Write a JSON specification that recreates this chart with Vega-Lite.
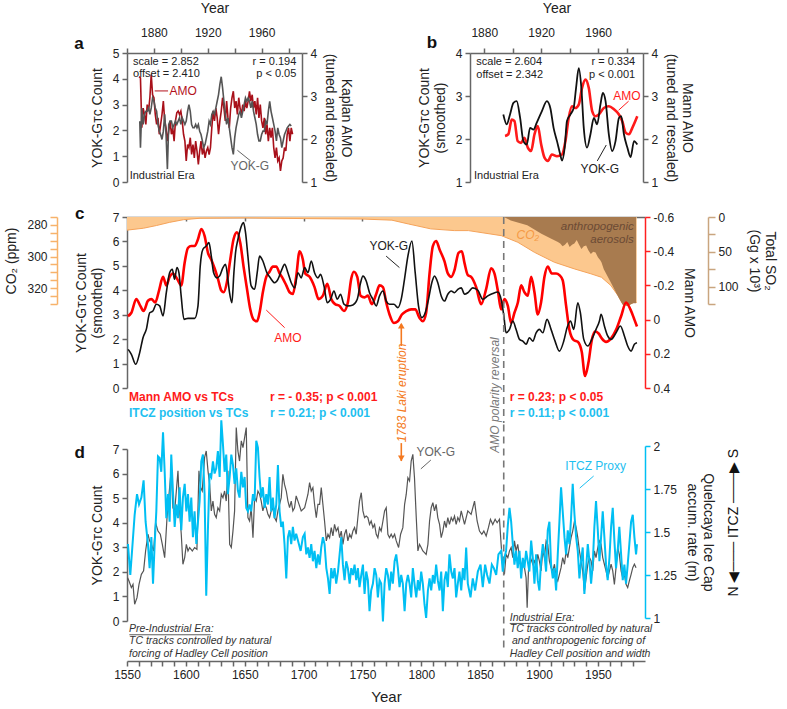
{
"$schema":"https://vega.github.io/schema/vega-lite/v6.json",
"padding":{"left":4,"top":1,"right":5,"bottom":5},
"config":{
 "font":"Liberation Sans",
 "view":{"stroke":null},
 "axis":{"grid":false,"labelFont":"Liberation Sans","labelFontSize":12,"labelColor":"#222","titleFont":"Liberation Sans","titleFontSize":14,"titleFontWeight":"normal","titleColor":"#222","domainColor":"#666","tickColor":"#666","domainWidth":1.5,"tickWidth":1.5,"tickSize":5,"labelOverlap":false,"labelFlush":false,"labelPadding":3},
 "text":{"font":"Liberation Sans","fontSize":11.5}
},
"datasets":{
 "a_yok":[{"year":1869.5,"v":2.36},{"year":1870,"v":1.33},{"year":1871,"v":2.87},{"year":1872,"v":2.23},{"year":1873,"v":2.62},{"year":1874,"v":2.74},{"year":1875,"v":2.74},{"year":1876,"v":2.87},{"year":1877,"v":2.62},{"year":1878,"v":2.87},{"year":1879,"v":3.26},{"year":1880,"v":3.13},{"year":1881,"v":2.87},{"year":1882,"v":2.74},{"year":1883,"v":2.23},{"year":1884,"v":1.97},{"year":1885,"v":1.84},{"year":1886,"v":1.65},{"year":1887,"v":1.97},{"year":1888,"v":2.62},{"year":1889,"v":1.84},{"year":1890,"v":0.5},{"year":1891,"v":2.23},{"year":1892,"v":2.36},{"year":1893,"v":2.36},{"year":1894,"v":2.1},{"year":1895,"v":2.23},{"year":1896,"v":2.36},{"year":1897,"v":2.23},{"year":1898,"v":2.36},{"year":1899,"v":2.49},{"year":1900,"v":2.23},{"year":1901,"v":2.49},{"year":1902,"v":2.36},{"year":1903,"v":2.23},{"year":1904,"v":2.36},{"year":1905,"v":2.74},{"year":1906,"v":3.0},{"year":1907,"v":2.74},{"year":1908,"v":2.23},{"year":1909,"v":2.1},{"year":1910,"v":2.1},{"year":1911,"v":2.23},{"year":1912,"v":2.1},{"year":1913,"v":2.23},{"year":1914,"v":1.97},{"year":1915,"v":1.84},{"year":1916,"v":1.59},{"year":1917,"v":1.33},{"year":1918,"v":1.46},{"year":1919,"v":1.71},{"year":1920,"v":1.97},{"year":1921,"v":2.36},{"year":1922,"v":2.23},{"year":1923,"v":2.62},{"year":1924,"v":2.74},{"year":1925,"v":2.62},{"year":1926,"v":2.87},{"year":1927,"v":3.13},{"year":1928,"v":3.39},{"year":1929,"v":3.78},{"year":1930,"v":4.08},{"year":1931,"v":3.65},{"year":1932,"v":3.13},{"year":1933,"v":2.62},{"year":1934,"v":2.23},{"year":1935,"v":2.49},{"year":1936,"v":2.1},{"year":1937,"v":1.71},{"year":1938,"v":1.33},{"year":1939,"v":1.07},{"year":1940,"v":1.71},{"year":1941,"v":2.1},{"year":1942,"v":2.36},{"year":1943,"v":2.62},{"year":1944,"v":2.74},{"year":1945,"v":2.49},{"year":1946,"v":2.74},{"year":1947,"v":3.0},{"year":1948,"v":3.26},{"year":1949,"v":3.13},{"year":1950,"v":3.26},{"year":1951,"v":3.13},{"year":1952,"v":2.87},{"year":1953,"v":3.13},{"year":1954,"v":2.74},{"year":1955,"v":2.49},{"year":1956,"v":2.23},{"year":1957,"v":1.84},{"year":1958,"v":1.59},{"year":1959,"v":1.59},{"year":1960,"v":1.84},{"year":1961,"v":1.97},{"year":1962,"v":1.97},{"year":1963,"v":2.36},{"year":1964,"v":2.23},{"year":1965,"v":2.74},{"year":1966,"v":3.13},{"year":1967,"v":2.74},{"year":1968,"v":2.49},{"year":1969,"v":2.23},{"year":1970,"v":1.97},{"year":1971,"v":1.59},{"year":1972,"v":2.1},{"year":1973,"v":1.84},{"year":1974,"v":1.71},{"year":1975,"v":1.33},{"year":1976,"v":1.59},{"year":1977,"v":1.84},{"year":1978,"v":1.97},{"year":1979,"v":2.1},{"year":1980,"v":2.17},{"year":1981,"v":2.23},{"year":1982,"v":2.17}],
 "a_amo":[{"year":1869,"v":3.45},{"year":1870,"v":3.42},{"year":1871,"v":2.26},{"year":1872,"v":2.72},{"year":1873,"v":2.57},{"year":1874,"v":2.34},{"year":1875,"v":2.8},{"year":1876,"v":2.65},{"year":1877,"v":2.96},{"year":1878,"v":3.5},{"year":1879,"v":3.03},{"year":1880,"v":2.96},{"year":1881,"v":2.57},{"year":1882,"v":2.34},{"year":1883,"v":2.49},{"year":1884,"v":2.11},{"year":1885,"v":2.34},{"year":1886,"v":2.57},{"year":1887,"v":2.88},{"year":1888,"v":2.42},{"year":1889,"v":2.26},{"year":1890,"v":1.95},{"year":1891,"v":2.18},{"year":1892,"v":2.42},{"year":1893,"v":2.11},{"year":1894,"v":2.26},{"year":1895,"v":1.95},{"year":1896,"v":2.42},{"year":1897,"v":2.61},{"year":1898,"v":2.65},{"year":1899,"v":2.57},{"year":1900,"v":2.65},{"year":1901,"v":2.42},{"year":1902,"v":2.11},{"year":1903,"v":1.95},{"year":1904,"v":1.49},{"year":1905,"v":1.87},{"year":1906,"v":1.8},{"year":1907,"v":2.03},{"year":1908,"v":1.64},{"year":1909,"v":1.87},{"year":1910,"v":1.56},{"year":1911,"v":1.95},{"year":1912,"v":1.72},{"year":1913,"v":1.41},{"year":1914,"v":1.72},{"year":1915,"v":1.95},{"year":1916,"v":1.64},{"year":1917,"v":1.8},{"year":1918,"v":1.56},{"year":1919,"v":1.72},{"year":1920,"v":1.8},{"year":1921,"v":1.64},{"year":1922,"v":1.8},{"year":1923,"v":2.26},{"year":1924,"v":2.65},{"year":1925,"v":2.42},{"year":1926,"v":2.72},{"year":1927,"v":2.49},{"year":1928,"v":2.11},{"year":1929,"v":2.42},{"year":1930,"v":2.65},{"year":1931,"v":2.96},{"year":1932,"v":2.72},{"year":1933,"v":2.42},{"year":1934,"v":2.88},{"year":1935,"v":2.49},{"year":1936,"v":2.26},{"year":1937,"v":2.72},{"year":1938,"v":2.96},{"year":1939,"v":3.11},{"year":1940,"v":2.72},{"year":1941,"v":2.88},{"year":1942,"v":2.57},{"year":1943,"v":2.96},{"year":1944,"v":2.72},{"year":1945,"v":2.57},{"year":1946,"v":2.8},{"year":1947,"v":2.65},{"year":1948,"v":2.88},{"year":1949,"v":2.72},{"year":1950,"v":2.88},{"year":1951,"v":3.11},{"year":1952,"v":2.88},{"year":1953,"v":3.03},{"year":1954,"v":2.72},{"year":1955,"v":2.88},{"year":1956,"v":2.57},{"year":1957,"v":2.96},{"year":1958,"v":2.49},{"year":1959,"v":2.8},{"year":1960,"v":2.42},{"year":1961,"v":2.26},{"year":1962,"v":2.49},{"year":1963,"v":2.11},{"year":1964,"v":2.34},{"year":1965,"v":1.95},{"year":1966,"v":2.26},{"year":1967,"v":2.03},{"year":1968,"v":2.26},{"year":1969,"v":1.8},{"year":1970,"v":1.56},{"year":1971,"v":1.8},{"year":1972,"v":1.49},{"year":1973,"v":1.56},{"year":1974,"v":1.26},{"year":1975,"v":1.49},{"year":1976,"v":1.56},{"year":1977,"v":1.8},{"year":1978,"v":1.72},{"year":1979,"v":2.11},{"year":1980,"v":2.26},{"year":1981,"v":1.95},{"year":1982,"v":2.26},{"year":1983,"v":2.11}],
 "b_yok":[{"year":1893.4,"v":2.57},{"year":1895.8,"v":2.34},{"year":1898.1,"v":2.57},{"year":1900.5,"v":2.84},{"year":1902.8,"v":2.88},{"year":1905.2,"v":2.49},{"year":1907.5,"v":1.95},{"year":1909.9,"v":1.87},{"year":1912.2,"v":2.26},{"year":1914.6,"v":2.22},{"year":1916.9,"v":2.38},{"year":1920.5,"v":2.65},{"year":1924,"v":2.88},{"year":1926.4,"v":2.72},{"year":1928.7,"v":2.26},{"year":1931.1,"v":1.95},{"year":1933.4,"v":1.64},{"year":1934.6,"v":1.5},{"year":1936.5,"v":1.8},{"year":1938.1,"v":2.42},{"year":1940.5,"v":2.57},{"year":1942.8,"v":2.72},{"year":1944.5,"v":3.19},{"year":1946.4,"v":3.65},{"year":1948.2,"v":3.19},{"year":1949.9,"v":2.26},{"year":1952.2,"v":1.8},{"year":1954.6,"v":2.11},{"year":1957,"v":2.49},{"year":1959.3,"v":2.34},{"year":1961.6,"v":2.8},{"year":1963.3,"v":3.07},{"year":1965.2,"v":2.88},{"year":1967.5,"v":2.11},{"year":1969.9,"v":1.72},{"year":1972.2,"v":1.95},{"year":1974.6,"v":2.49},{"year":1976.2,"v":2.53},{"year":1978.1,"v":2.11},{"year":1980.5,"v":1.8},{"year":1982.8,"v":1.58},{"year":1985.2,"v":1.95},{"year":1987.5,"v":1.87}],
 "b_amo":[{"year":1894.6,"v":2.07},{"year":1896.9,"v":2.11},{"year":1899.3,"v":2.45},{"year":1901.2,"v":2.42},{"year":1903.5,"v":1.95},{"year":1905.9,"v":1.91},{"year":1908.2,"v":2.03},{"year":1910.6,"v":1.8},{"year":1912.9,"v":1.72},{"year":1915.3,"v":2.11},{"year":1917.6,"v":2.3},{"year":1920,"v":1.87},{"year":1922.4,"v":1.56},{"year":1924.7,"v":1.49},{"year":1927.5,"v":1.64},{"year":1931.1,"v":1.6},{"year":1934.6,"v":1.64},{"year":1937,"v":1.95},{"year":1939.3,"v":2.49},{"year":1941.6,"v":2.76},{"year":1944,"v":2.72},{"year":1946.4,"v":2.8},{"year":1948.7,"v":3.19},{"year":1951.1,"v":3.38},{"year":1953.4,"v":3.19},{"year":1955.8,"v":2.65},{"year":1958.1,"v":2.53},{"year":1960.5,"v":2.57},{"year":1964,"v":2.72},{"year":1967.5,"v":2.76},{"year":1971.1,"v":2.69},{"year":1974.6,"v":2.57},{"year":1976.9,"v":2.42},{"year":1979.3,"v":2.15},{"year":1981.6,"v":2.11},{"year":1984,"v":2.26},{"year":1987.5,"v":2.53}],
 "c_yok":[{"year":1551,"v":1.58},{"year":1553.7,"v":1.38},{"year":1557.4,"v":0.97},{"year":1560.8,"v":1.45},{"year":1563.6,"v":2.06},{"year":1566.4,"v":2.4},{"year":1569.3,"v":3.08},{"year":1572,"v":3.15},{"year":1574.9,"v":3.43},{"year":1577.7,"v":3.36},{"year":1580.6,"v":2.95},{"year":1583.4,"v":3.9},{"year":1586.2,"v":4.72},{"year":1588.5,"v":4.86},{"year":1590.4,"v":4.45},{"year":1592.4,"v":4.93},{"year":1594.1,"v":4.72},{"year":1596,"v":3.77},{"year":1598.4,"v":2.81},{"year":1601.8,"v":2.85},{"year":1607.5,"v":2.85},{"year":1610.3,"v":3.36},{"year":1612.2,"v":4.99},{"year":1614.5,"v":5.68},{"year":1617.3,"v":5.81},{"year":1619.6,"v":5.95},{"year":1621.6,"v":5.4},{"year":1623.6,"v":4.72},{"year":1626.4,"v":4.51},{"year":1628.6,"v":4.58},{"year":1631.5,"v":4.93},{"year":1633.7,"v":5.06},{"year":1635.7,"v":4.45},{"year":1637.1,"v":3.9},{"year":1639.1,"v":3.49},{"year":1640.8,"v":4.72},{"year":1642.2,"v":5.54},{"year":1644.2,"v":6.08},{"year":1646.2,"v":6.49},{"year":1649,"v":6.77},{"year":1650.7,"v":6.36},{"year":1652.7,"v":5.4},{"year":1655.5,"v":4.18},{"year":1658.4,"v":4.04},{"year":1660.6,"v":4.72},{"year":1662.6,"v":5.4},{"year":1665.4,"v":5.2},{"year":1668.8,"v":4.72},{"year":1671.7,"v":4.51},{"year":1675.4,"v":4.31},{"year":1678.2,"v":4.45},{"year":1681,"v":4.79},{"year":1683.9,"v":5.06},{"year":1686.7,"v":4.72},{"year":1689.5,"v":4.31},{"year":1692.4,"v":4.1},{"year":1695.2,"v":4.72},{"year":1698,"v":4.51},{"year":1700.9,"v":4.93},{"year":1703.7,"v":4.72},{"year":1706.5,"v":5.2},{"year":1709.3,"v":4.72},{"year":1712.2,"v":4.51},{"year":1714.4,"v":4.65},{"year":1717.3,"v":4.18},{"year":1720.1,"v":3.49},{"year":1722.9,"v":3.63},{"year":1725.8,"v":3.97},{"year":1728.6,"v":3.63},{"year":1731.4,"v":3.84},{"year":1734.3,"v":3.43},{"year":1737.6,"v":3.36},{"year":1741.9,"v":3.4},{"year":1745.6,"v":3.63},{"year":1748.4,"v":4.31},{"year":1750.4,"v":4.58},{"year":1753.2,"v":4.38},{"year":1756,"v":3.9},{"year":1758.9,"v":3.63},{"year":1761.7,"v":3.36},{"year":1764.5,"v":3.77},{"year":1767.4,"v":3.97},{"year":1770.2,"v":3.56},{"year":1773,"v":3.43},{"year":1776.7,"v":3.43},{"year":1780.1,"v":3.29},{"year":1782.9,"v":3.63},{"year":1785.7,"v":4.45},{"year":1788.6,"v":5.4},{"year":1792,"v":6.02},{"year":1794.8,"v":4.72},{"year":1797.6,"v":3.36},{"year":1800.5,"v":2.88},{"year":1803.3,"v":3.08},{"year":1806.1,"v":3.63},{"year":1808.9,"v":4.31},{"year":1811.2,"v":4.58},{"year":1814,"v":4.31},{"year":1816.9,"v":3.77},{"year":1819.7,"v":3.56},{"year":1822.5,"v":3.84},{"year":1825.4,"v":3.97},{"year":1828.2,"v":3.9},{"year":1831,"v":4.04},{"year":1833.9,"v":4.1},{"year":1836.7,"v":3.84},{"year":1839.5,"v":3.9},{"year":1843.7,"v":4.1},{"year":1848,"v":4.0},{"year":1852.2,"v":3.63},{"year":1856.5,"v":3.77},{"year":1860.7,"v":3.87},{"year":1865,"v":3.93},{"year":1867.8,"v":3.63},{"year":1870.1,"v":2.95},{"year":1872,"v":2.26},{"year":1874.9,"v":2.4},{"year":1877.7,"v":2.74},{"year":1880.5,"v":2.4},{"year":1883.4,"v":1.99},{"year":1886.2,"v":1.92},{"year":1889,"v":1.79},{"year":1891.8,"v":2.06},{"year":1894.7,"v":1.92},{"year":1897.5,"v":2.26},{"year":1900.3,"v":2.4},{"year":1903.2,"v":2.26},{"year":1906.8,"v":2.81},{"year":1910.2,"v":2.4},{"year":1913.6,"v":1.92},{"year":1917.3,"v":1.51},{"year":1921,"v":1.92},{"year":1923.8,"v":2.47},{"year":1926.7,"v":2.74},{"year":1929.5,"v":2.4},{"year":1932.9,"v":3.49},{"year":1935.1,"v":3.08},{"year":1938,"v":1.99},{"year":1941.4,"v":1.72},{"year":1944.8,"v":1.99},{"year":1948.4,"v":2.4},{"year":1951.3,"v":2.74},{"year":1952.7,"v":3.02},{"year":1955.5,"v":2.54},{"year":1958.3,"v":2.13},{"year":1961.2,"v":1.99},{"year":1965.4,"v":2.26},{"year":1969.1,"v":2.54},{"year":1972.5,"v":2.13},{"year":1975.3,"v":1.72},{"year":1978.2,"v":1.51},{"year":1981,"v":1.79},{"year":1983.2,"v":1.85}],
 "c_amo":[{"year":1550.8,"v":-0.02},{"year":1553.7,"v":-0.04},{"year":1557.9,"v":-0.12},{"year":1561.3,"v":-0.08},{"year":1564.1,"v":-0.05},{"year":1567.8,"v":-0.11},{"year":1570.7,"v":-0.12},{"year":1574,"v":-0.1},{"year":1577.2,"v":-0.17},{"year":1580.6,"v":-0.25},{"year":1583.4,"v":-0.2},{"year":1586.2,"v":-0.25},{"year":1589,"v":-0.27},{"year":1592.4,"v":-0.24},{"year":1596.1,"v":-0.2},{"year":1598.9,"v":-0.33},{"year":1601.8,"v":-0.42},{"year":1604.6,"v":-0.43},{"year":1607.4,"v":-0.43},{"year":1610.3,"v":-0.47},{"year":1613.1,"v":-0.53},{"year":1615.9,"v":-0.49},{"year":1618.8,"v":-0.39},{"year":1621.6,"v":-0.35},{"year":1624.4,"v":-0.3},{"year":1627.2,"v":-0.24},{"year":1630.1,"v":-0.17},{"year":1632.1,"v":-0.16},{"year":1634.9,"v":-0.22},{"year":1637.7,"v":-0.35},{"year":1640.5,"v":-0.47},{"year":1643.4,"v":-0.51},{"year":1646.2,"v":-0.45},{"year":1649,"v":-0.31},{"year":1651.9,"v":-0.18},{"year":1654.7,"v":-0.06},{"year":1657.5,"v":0.0},{"year":1660.4,"v":0.01},{"year":1662.6,"v":-0.04},{"year":1665.4,"v":-0.16},{"year":1668.3,"v":-0.25},{"year":1671.1,"v":-0.28},{"year":1673.9,"v":-0.31},{"year":1676.8,"v":-0.31},{"year":1679.6,"v":-0.27},{"year":1682.4,"v":-0.24},{"year":1685.3,"v":-0.2},{"year":1688.1,"v":-0.16},{"year":1690.9,"v":-0.15},{"year":1693.7,"v":-0.25},{"year":1696.6,"v":-0.4},{"year":1699.4,"v":-0.35},{"year":1701.4,"v":-0.27},{"year":1705.1,"v":-0.25},{"year":1709.3,"v":-0.19},{"year":1712.7,"v":-0.12},{"year":1716.4,"v":-0.14},{"year":1720.1,"v":-0.21},{"year":1723.5,"v":-0.12},{"year":1726.9,"v":-0.09},{"year":1730.6,"v":-0.08},{"year":1734.3,"v":-0.05},{"year":1737.6,"v":-0.1},{"year":1740.5,"v":-0.24},{"year":1742.7,"v":-0.28},{"year":1745.6,"v":-0.25},{"year":1748.4,"v":-0.14},{"year":1751.8,"v":-0.13},{"year":1754.6,"v":-0.14},{"year":1758,"v":-0.09},{"year":1761.7,"v":-0.15},{"year":1764.5,"v":-0.2},{"year":1767.4,"v":-0.19},{"year":1770.2,"v":-0.1},{"year":1773,"v":-0.03},{"year":1776.7,"v":0.02},{"year":1780.1,"v":0.01},{"year":1783.5,"v":-0.03},{"year":1787.2,"v":-0.05},{"year":1791.4,"v":-0.06},{"year":1794.8,"v":-0.06},{"year":1798.5,"v":-0.01},{"year":1801.3,"v":0.01},{"year":1804.1,"v":-0.04},{"year":1807,"v":-0.27},{"year":1809.8,"v":-0.43},{"year":1812.6,"v":-0.46},{"year":1815.5,"v":-0.41},{"year":1819.7,"v":-0.34},{"year":1822.5,"v":-0.27},{"year":1825.4,"v":-0.25},{"year":1828.2,"v":-0.29},{"year":1831.6,"v":-0.39},{"year":1834.4,"v":-0.4},{"year":1836.7,"v":-0.33},{"year":1839.5,"v":-0.26},{"year":1842.3,"v":-0.25},{"year":1846.6,"v":-0.19},{"year":1850.8,"v":-0.09},{"year":1855.1,"v":-0.18},{"year":1859.3,"v":-0.3},{"year":1862.1,"v":-0.27},{"year":1865,"v":-0.17},{"year":1867.8,"v":-0.06},{"year":1870.6,"v":-0.12},{"year":1873.5,"v":-0.08},{"year":1876.3,"v":0.02},{"year":1879.1,"v":-0.04},{"year":1882,"v":-0.1},{"year":1884.8,"v":-0.2},{"year":1887.6,"v":-0.16},{"year":1890.4,"v":-0.14},{"year":1893.3,"v":-0.25},{"year":1896.1,"v":-0.16},{"year":1898.9,"v":-0.03},{"year":1901.7,"v":-0.1},{"year":1904.6,"v":-0.25},{"year":1907.4,"v":-0.31},{"year":1910.8,"v":-0.27},{"year":1914.5,"v":-0.27},{"year":1917.3,"v":-0.26},{"year":1920.1,"v":-0.23},{"year":1923,"v":-0.08},{"year":1925.8,"v":0.06},{"year":1929.5,"v":0.12},{"year":1932.9,"v":0.13},{"year":1936.3,"v":0.19},{"year":1939.1,"v":0.33},{"year":1942,"v":0.25},{"year":1944.8,"v":0.12},{"year":1947.6,"v":0.07},{"year":1950.4,"v":0.08},{"year":1953.3,"v":0.11},{"year":1956.9,"v":0.13},{"year":1961.2,"v":0.11},{"year":1965.4,"v":0.06},{"year":1969.7,"v":-0.02},{"year":1973.9,"v":-0.1},{"year":1977.6,"v":-0.06},{"year":1981,"v":0.0},{"year":1983.2,"v":0.04}],
 "c_co2":[{"year":1550,"v":283.3},{"year":1564,"v":282.1},{"year":1575,"v":280.4},{"year":1586,"v":278.4},{"year":1598,"v":276.7},{"year":1612,"v":275.8},{"year":1650,"v":275.6},{"year":1700,"v":276.0},{"year":1750,"v":276.3},{"year":1775,"v":277.0},{"year":1789,"v":279.4},{"year":1808,"v":282.5},{"year":1828,"v":283.6},{"year":1840,"v":283.6},{"year":1868,"v":286.8},{"year":1882,"v":291.0},{"year":1896,"v":297.3},{"year":1913,"v":303.6},{"year":1930,"v":307.8},{"year":1944,"v":310.9},{"year":1953,"v":313.1},{"year":1961,"v":318.3},{"year":1967,"v":324.6},{"year":1971,"v":329.8},{"year":1975,"v":330.9},{"year":1981,"v":328.8},{"year":1983,"v":329.0}],
 "c_so2":[{"year":1870,"v":0},{"year":1876,"v":5},{"year":1890,"v":12},{"year":1902,"v":24},{"year":1910,"v":31},{"year":1916,"v":36},{"year":1918,"v":38},{"year":1920,"v":42},{"year":1922,"v":40},{"year":1924,"v":36},{"year":1926,"v":43},{"year":1928,"v":40},{"year":1930,"v":38},{"year":1932,"v":33},{"year":1934,"v":40},{"year":1936,"v":46},{"year":1938,"v":42},{"year":1940,"v":41},{"year":1942,"v":48},{"year":1944,"v":53},{"year":1946,"v":50},{"year":1948,"v":51},{"year":1950,"v":58},{"year":1952,"v":62},{"year":1953,"v":65},{"year":1955,"v":75},{"year":1961,"v":94},{"year":1967,"v":114},{"year":1971,"v":126},{"year":1975,"v":128},{"year":1980,"v":124},{"year":1982.4,"v":124}],
 "d_yok":[{"year":1550.5,"v":1.76},{"year":1551.7,"v":1.63},{"year":1553.7,"v":1.36},{"year":1555.1,"v":1.49},{"year":1556.5,"v":0.68},{"year":1558.5,"v":0.95},{"year":1560.2,"v":1.49},{"year":1562.2,"v":1.9},{"year":1564.1,"v":2.04},{"year":1565.8,"v":2.85},{"year":1567.8,"v":3.53},{"year":1569.2,"v":3.26},{"year":1570.7,"v":3.12},{"year":1572.6,"v":2.85},{"year":1574.3,"v":4.0},{"year":1576.3,"v":3.66},{"year":1578.3,"v":3.53},{"year":1580,"v":3.12},{"year":1582,"v":2.58},{"year":1584,"v":4.21},{"year":1585.7,"v":5.16},{"year":1587.6,"v":6.17},{"year":1589,"v":4.61},{"year":1590.5,"v":4.48},{"year":1591.9,"v":5.29},{"year":1593.3,"v":6.11},{"year":1594.7,"v":4.48},{"year":1596.1,"v":3.53},{"year":1597.5,"v":2.31},{"year":1599,"v":2.58},{"year":1600.4,"v":3.12},{"year":1601.8,"v":2.85},{"year":1603.2,"v":2.99},{"year":1605.5,"v":2.85},{"year":1607.4,"v":2.99},{"year":1609.4,"v":2.92},{"year":1611.1,"v":6.11},{"year":1612.5,"v":5.43},{"year":1613.9,"v":5.29},{"year":1615.9,"v":6.65},{"year":1617.3,"v":6.92},{"year":1618.8,"v":6.11},{"year":1620.2,"v":5.56},{"year":1621.6,"v":4.48},{"year":1623,"v":4.88},{"year":1624.4,"v":4.34},{"year":1625.8,"v":4.21},{"year":1627.2,"v":4.61},{"year":1628.7,"v":4.48},{"year":1630.1,"v":5.16},{"year":1631.5,"v":5.02},{"year":1632.9,"v":5.29},{"year":1634.3,"v":4.88},{"year":1635.7,"v":6.11},{"year":1637.2,"v":3.12},{"year":1638.6,"v":2.99},{"year":1640,"v":3.66},{"year":1641.4,"v":4.48},{"year":1642.8,"v":7.87},{"year":1644.2,"v":6.92},{"year":1645.6,"v":6.51},{"year":1647.1,"v":7.33},{"year":1648.5,"v":7.06},{"year":1649.9,"v":7.46},{"year":1651.3,"v":7.87},{"year":1652.7,"v":4.21},{"year":1654.1,"v":4.07},{"year":1655.5,"v":4.61},{"year":1657,"v":3.39},{"year":1658.4,"v":5.02},{"year":1659.8,"v":4.88},{"year":1661.2,"v":5.29},{"year":1662.6,"v":5.16},{"year":1664,"v":4.88},{"year":1665.4,"v":4.48},{"year":1666.9,"v":4.75},{"year":1668.3,"v":4.61},{"year":1669.7,"v":4.34},{"year":1671.1,"v":4.21},{"year":1672.5,"v":4.48},{"year":1673.9,"v":4.61},{"year":1675.3,"v":4.21},{"year":1676.8,"v":4.07},{"year":1678.2,"v":4.48},{"year":1679.6,"v":4.75},{"year":1681,"v":5.02},{"year":1682.4,"v":5.97},{"year":1683.8,"v":5.56},{"year":1685.3,"v":5.29},{"year":1686.7,"v":4.88},{"year":1688.1,"v":4.61},{"year":1689.5,"v":4.88},{"year":1690.9,"v":4.48},{"year":1692.3,"v":4.61},{"year":1693.7,"v":5.09},{"year":1695.2,"v":4.88},{"year":1698,"v":4.48},{"year":1700.9,"v":4.61},{"year":1703.7,"v":5.16},{"year":1705.1,"v":5.63},{"year":1706.5,"v":5.29},{"year":1707.9,"v":5.43},{"year":1709.3,"v":4.75},{"year":1710.8,"v":4.21},{"year":1712.2,"v":4.75},{"year":1713.6,"v":4.75},{"year":1715,"v":5.43},{"year":1716.4,"v":4.75},{"year":1717.8,"v":4.07},{"year":1719.3,"v":3.26},{"year":1720.7,"v":3.53},{"year":1722.1,"v":3.39},{"year":1723.5,"v":3.8},{"year":1724.9,"v":3.46},{"year":1726.3,"v":3.93},{"year":1727.7,"v":3.66},{"year":1729.2,"v":3.8},{"year":1730.6,"v":3.39},{"year":1732,"v":3.66},{"year":1733.4,"v":3.12},{"year":1734.8,"v":3.53},{"year":1736.2,"v":3.73},{"year":1737.6,"v":3.26},{"year":1739.1,"v":3.53},{"year":1740.5,"v":3.39},{"year":1741.9,"v":3.66},{"year":1743.3,"v":3.8},{"year":1744.7,"v":3.53},{"year":1746.1,"v":4.21},{"year":1747.5,"v":4.88},{"year":1749,"v":5.22},{"year":1750.4,"v":4.48},{"year":1751.8,"v":4.21},{"year":1753.2,"v":4.27},{"year":1754.6,"v":4.21},{"year":1756,"v":3.93},{"year":1757.4,"v":4.07},{"year":1758.9,"v":3.8},{"year":1760.3,"v":3.93},{"year":1761.7,"v":3.53},{"year":1763.1,"v":3.39},{"year":1764.5,"v":3.8},{"year":1765.9,"v":3.66},{"year":1767.4,"v":4.07},{"year":1768.8,"v":4.48},{"year":1770.2,"v":4.61},{"year":1771.6,"v":3.53},{"year":1773,"v":3.39},{"year":1774.4,"v":3.53},{"year":1775.8,"v":3.39},{"year":1777.3,"v":3.53},{"year":1778.7,"v":3.26},{"year":1780.7,"v":2.99},{"year":1782.4,"v":3.53},{"year":1784.3,"v":3.8},{"year":1785.8,"v":4.75},{"year":1787.2,"v":5.16},{"year":1788.6,"v":5.83},{"year":1790,"v":5.7},{"year":1791.4,"v":6.51},{"year":1792.8,"v":6.78},{"year":1794.2,"v":5.83},{"year":1795.7,"v":4.21},{"year":1797.1,"v":2.85},{"year":1798.5,"v":3.12},{"year":1799.9,"v":2.99},{"year":1801.3,"v":2.85},{"year":1802.7,"v":2.78},{"year":1804.1,"v":2.71},{"year":1805.6,"v":3.12},{"year":1807,"v":4.07},{"year":1808.4,"v":4.61},{"year":1809.8,"v":4.82},{"year":1811.2,"v":4.48},{"year":1812.6,"v":4.75},{"year":1814,"v":4.21},{"year":1815.5,"v":3.93},{"year":1816.9,"v":3.39},{"year":1818.3,"v":3.66},{"year":1819.7,"v":4.07},{"year":1821.1,"v":3.8},{"year":1822.5,"v":4.21},{"year":1823.9,"v":3.93},{"year":1825.4,"v":4.21},{"year":1826.8,"v":4.07},{"year":1828.2,"v":4.27},{"year":1829.6,"v":3.93},{"year":1831,"v":4.21},{"year":1832.4,"v":4.07},{"year":1833.9,"v":4.48},{"year":1835.3,"v":4.21},{"year":1836.7,"v":3.93},{"year":1839.5,"v":4.48},{"year":1842.3,"v":4.34},{"year":1845.2,"v":4.88},{"year":1847.4,"v":4.07},{"year":1849.4,"v":3.66},{"year":1851.4,"v":3.53},{"year":1853.1,"v":3.66},{"year":1855.1,"v":3.46},{"year":1857,"v":3.8},{"year":1858.7,"v":4.14},{"year":1860.7,"v":3.93},{"year":1862.7,"v":4.14},{"year":1864.4,"v":4.0},{"year":1866.4,"v":4.14},{"year":1867.8,"v":3.12},{"year":1869.2,"v":2.17},{"year":1870.6,"v":1.9},{"year":1872,"v":2.71},{"year":1873.5,"v":2.58},{"year":1874.9,"v":2.85},{"year":1876.3,"v":2.99},{"year":1877.7,"v":2.58},{"year":1879.1,"v":3.26},{"year":1880.5,"v":2.85},{"year":1881.9,"v":3.12},{"year":1883.4,"v":2.58},{"year":1884.8,"v":2.31},{"year":1886.2,"v":2.31},{"year":1887.6,"v":2.17},{"year":1889,"v":1.76},{"year":1889.9,"v":0.54},{"year":1891,"v":2.04},{"year":1892.7,"v":2.58},{"year":1894.7,"v":2.31},{"year":1896.1,"v":2.44},{"year":1897.5,"v":2.17},{"year":1898.9,"v":2.71},{"year":1900.3,"v":2.44},{"year":1901.7,"v":2.04},{"year":1903.2,"v":2.85},{"year":1904.6,"v":2.58},{"year":1906,"v":3.26},{"year":1907.4,"v":3.12},{"year":1908.8,"v":2.44},{"year":1910.2,"v":2.17},{"year":1911.7,"v":2.04},{"year":1913.1,"v":2.31},{"year":1914.5,"v":1.76},{"year":1915.9,"v":1.63},{"year":1917.3,"v":1.9},{"year":1918.7,"v":2.17},{"year":1920.1,"v":2.58},{"year":1921.6,"v":2.31},{"year":1923,"v":2.85},{"year":1924.4,"v":2.58},{"year":1925.8,"v":2.99},{"year":1927.2,"v":3.39},{"year":1928.6,"v":3.66},{"year":1930.1,"v":4.07},{"year":1931.5,"v":3.8},{"year":1932.9,"v":3.39},{"year":1934.3,"v":2.85},{"year":1935.7,"v":2.44},{"year":1937.1,"v":2.04},{"year":1938.5,"v":1.22},{"year":1940,"v":1.76},{"year":1941.4,"v":2.31},{"year":1942.8,"v":2.58},{"year":1944.2,"v":2.44},{"year":1945.6,"v":2.04},{"year":1947,"v":2.85},{"year":1948.4,"v":2.58},{"year":1949.9,"v":2.99},{"year":1951.3,"v":3.26},{"year":1952.7,"v":3.12},{"year":1954.1,"v":2.58},{"year":1955.5,"v":2.31},{"year":1956.9,"v":2.04},{"year":1958.3,"v":1.76},{"year":1959.8,"v":2.04},{"year":1961.2,"v":2.31},{"year":1962.6,"v":2.04},{"year":1964,"v":1.49},{"year":1965.4,"v":2.17},{"year":1966.8,"v":2.99},{"year":1968.2,"v":2.71},{"year":1969.7,"v":2.04},{"year":1971.1,"v":1.76},{"year":1972.5,"v":1.9},{"year":1973.9,"v":1.49},{"year":1975.3,"v":1.36},{"year":1976.7,"v":1.63},{"year":1978.2,"v":1.9},{"year":1979.6,"v":2.17},{"year":1981,"v":2.31},{"year":1982.4,"v":2.17}],
 "d_itcz":[{"year":1550.8,"v":1.43},{"year":1552.8,"v":1.25},{"year":1554.5,"v":1.41},{"year":1556.5,"v":1.6},{"year":1558.5,"v":1.72},{"year":1560.2,"v":1.66},{"year":1562.2,"v":1.7},{"year":1564.1,"v":1.8},{"year":1565.8,"v":1.56},{"year":1567.8,"v":1.43},{"year":1569.2,"v":1.29},{"year":1570.7,"v":1.47},{"year":1572.1,"v":1.2},{"year":1573.5,"v":1.43},{"year":1574.9,"v":1.62},{"year":1576.3,"v":1.94},{"year":1577.7,"v":1.93},{"year":1579.1,"v":1.85},{"year":1580.6,"v":2.08},{"year":1582,"v":1.85},{"year":1583.4,"v":1.58},{"year":1584.8,"v":1.72},{"year":1586.2,"v":1.56},{"year":1587.6,"v":1.95},{"year":1589,"v":1.74},{"year":1590.5,"v":1.53},{"year":1591.9,"v":1.66},{"year":1593.3,"v":1.58},{"year":1594.7,"v":1.76},{"year":1596.1,"v":1.51},{"year":1597.5,"v":1.7},{"year":1599,"v":1.78},{"year":1600.4,"v":1.62},{"year":1601.8,"v":1.72},{"year":1603.2,"v":1.56},{"year":1604.6,"v":1.7},{"year":1606,"v":1.47},{"year":1607.4,"v":1.62},{"year":1608.9,"v":1.43},{"year":1610.3,"v":1.56},{"year":1611.7,"v":1.68},{"year":1613.1,"v":1.91},{"year":1614.5,"v":1.95},{"year":1615.9,"v":1.72},{"year":1617.3,"v":1.13},{"year":1618.8,"v":1.53},{"year":1620.2,"v":1.84},{"year":1621.6,"v":1.82},{"year":1623,"v":1.91},{"year":1624.4,"v":1.84},{"year":1625.8,"v":1.87},{"year":1627.2,"v":1.97},{"year":1628.7,"v":1.82},{"year":1630.1,"v":2.15},{"year":1631.5,"v":2.01},{"year":1632.9,"v":1.85},{"year":1634.3,"v":1.95},{"year":1635.7,"v":1.72},{"year":1637.2,"v":1.82},{"year":1638.6,"v":1.95},{"year":1640,"v":1.89},{"year":1641.4,"v":1.78},{"year":1642.8,"v":1.87},{"year":1644.2,"v":1.74},{"year":1645.6,"v":1.7},{"year":1647.1,"v":1.85},{"year":1648.5,"v":1.76},{"year":1649.9,"v":1.82},{"year":1651.3,"v":1.64},{"year":1652.7,"v":1.62},{"year":1654.1,"v":1.66},{"year":1655.5,"v":1.62},{"year":1657,"v":1.72},{"year":1658.4,"v":1.68},{"year":1659.8,"v":2.03},{"year":1661.2,"v":1.99},{"year":1662.6,"v":1.82},{"year":1664,"v":1.7},{"year":1665.4,"v":1.76},{"year":1666.9,"v":1.64},{"year":1668.3,"v":1.72},{"year":1669.7,"v":1.66},{"year":1671.1,"v":1.82},{"year":1672.5,"v":1.62},{"year":1673.9,"v":1.7},{"year":1675.3,"v":1.58},{"year":1676.8,"v":1.66},{"year":1678.2,"v":1.89},{"year":1679.6,"v":1.62},{"year":1681,"v":1.53},{"year":1682.4,"v":1.56},{"year":1683.8,"v":1.43},{"year":1685.3,"v":1.23},{"year":1686.7,"v":1.47},{"year":1688.1,"v":1.51},{"year":1689.5,"v":1.43},{"year":1690.9,"v":1.53},{"year":1692.3,"v":1.45},{"year":1693.7,"v":1.49},{"year":1695.2,"v":1.45},{"year":1697.5,"v":1.39},{"year":1699.4,"v":1.47},{"year":1700.9,"v":1.49},{"year":1702.3,"v":1.37},{"year":1703.7,"v":1.41},{"year":1705.1,"v":1.35},{"year":1706.5,"v":1.43},{"year":1707.9,"v":1.33},{"year":1709.3,"v":1.39},{"year":1710.8,"v":1.29},{"year":1712.2,"v":1.37},{"year":1713.6,"v":1.31},{"year":1715,"v":1.41},{"year":1716.4,"v":1.47},{"year":1717.8,"v":1.43},{"year":1719.3,"v":1.29},{"year":1720.7,"v":1.23},{"year":1722.1,"v":1.14},{"year":1723.5,"v":1.29},{"year":1724.9,"v":1.23},{"year":1726.3,"v":1.29},{"year":1727.7,"v":1.2},{"year":1729.2,"v":1.27},{"year":1730.6,"v":1.37},{"year":1732,"v":1.47},{"year":1733.4,"v":1.31},{"year":1734.8,"v":1.22},{"year":1736.2,"v":1.33},{"year":1737.6,"v":1.29},{"year":1739.1,"v":1.2},{"year":1740.5,"v":1.29},{"year":1741.9,"v":1.25},{"year":1743.3,"v":1.31},{"year":1744.7,"v":1.22},{"year":1746.1,"v":1.29},{"year":1747.5,"v":1.18},{"year":1749,"v":1.25},{"year":1750.4,"v":1.31},{"year":1751.8,"v":1.14},{"year":1753.2,"v":1.27},{"year":1754.6,"v":1.22},{"year":1756,"v":1.04},{"year":1757.4,"v":1.16},{"year":1758.9,"v":1.2},{"year":1760.3,"v":1.29},{"year":1761.7,"v":1.25},{"year":1763.1,"v":1.12},{"year":1764.5,"v":1.22},{"year":1765.9,"v":1.2},{"year":1767.4,"v":0.98},{"year":1768.8,"v":1.2},{"year":1770.2,"v":1.29},{"year":1771.6,"v":1.25},{"year":1773,"v":1.16},{"year":1774.4,"v":1.27},{"year":1775.8,"v":1.2},{"year":1777.3,"v":1.33},{"year":1778.7,"v":1.37},{"year":1780.1,"v":1.29},{"year":1781.5,"v":1.18},{"year":1782.9,"v":1.25},{"year":1784.3,"v":1.2},{"year":1785.8,"v":1.04},{"year":1787.2,"v":1.2},{"year":1788.6,"v":1.25},{"year":1790,"v":1.2},{"year":1791.4,"v":1.12},{"year":1792.8,"v":1.29},{"year":1794.2,"v":1.2},{"year":1795.7,"v":1.12},{"year":1797.1,"v":1.22},{"year":1798.5,"v":1.16},{"year":1799.9,"v":1.27},{"year":1801.3,"v":1.2},{"year":1802.7,"v":1.08},{"year":1804.1,"v":1.0},{"year":1805.6,"v":1.16},{"year":1807,"v":1.23},{"year":1808.4,"v":1.16},{"year":1809.8,"v":1.25},{"year":1811.2,"v":1.2},{"year":1812.6,"v":1.31},{"year":1814,"v":1.22},{"year":1815.5,"v":1.16},{"year":1816.9,"v":1.27},{"year":1818.3,"v":1.04},{"year":1819.7,"v":1.22},{"year":1821.1,"v":1.27},{"year":1822.5,"v":1.18},{"year":1823.9,"v":1.37},{"year":1825.4,"v":1.27},{"year":1826.8,"v":1.23},{"year":1828.2,"v":1.29},{"year":1829.6,"v":1.12},{"year":1831,"v":1.2},{"year":1832.4,"v":1.27},{"year":1833.9,"v":1.16},{"year":1835.3,"v":1.29},{"year":1836.7,"v":1.22},{"year":1838.1,"v":1.41},{"year":1839.5,"v":1.2},{"year":1841.8,"v":1.12},{"year":1843.7,"v":1.23},{"year":1845.7,"v":1.16},{"year":1848,"v":1.27},{"year":1850.3,"v":1.31},{"year":1852.2,"v":1.18},{"year":1854.2,"v":1.31},{"year":1855.9,"v":1.25},{"year":1857.9,"v":1.2},{"year":1859.9,"v":1.31},{"year":1861.6,"v":1.29},{"year":1863.6,"v":1.25},{"year":1865.5,"v":1.37},{"year":1867.8,"v":1.39},{"year":1869.2,"v":1.27},{"year":1870.6,"v":1.35},{"year":1872,"v":1.39},{"year":1873.5,"v":1.54},{"year":1874.9,"v":1.64},{"year":1876.3,"v":1.56},{"year":1877.7,"v":1.43},{"year":1879.1,"v":1.31},{"year":1880.5,"v":1.39},{"year":1881.9,"v":1.29},{"year":1883.4,"v":1.39},{"year":1884.8,"v":1.23},{"year":1886.2,"v":1.35},{"year":1887.6,"v":1.29},{"year":1889,"v":1.39},{"year":1890.4,"v":1.33},{"year":1891.8,"v":1.27},{"year":1893.3,"v":1.45},{"year":1894.7,"v":1.35},{"year":1896.1,"v":1.2},{"year":1897.5,"v":1.37},{"year":1898.9,"v":1.22},{"year":1900.3,"v":1.16},{"year":1901.7,"v":1.33},{"year":1903.2,"v":1.43},{"year":1904.6,"v":1.37},{"year":1906,"v":1.27},{"year":1907.4,"v":1.51},{"year":1908.8,"v":1.56},{"year":1910.2,"v":1.31},{"year":1911.7,"v":1.23},{"year":1913.1,"v":1.29},{"year":1914.5,"v":1.16},{"year":1915.9,"v":1.37},{"year":1917.3,"v":1.56},{"year":1918.7,"v":1.76},{"year":1920.1,"v":1.62},{"year":1921.6,"v":1.47},{"year":1923,"v":1.37},{"year":1924.4,"v":1.51},{"year":1925.8,"v":1.43},{"year":1927.2,"v":1.58},{"year":1928.6,"v":1.78},{"year":1930.1,"v":1.6},{"year":1931.5,"v":1.47},{"year":1932.9,"v":1.39},{"year":1934.3,"v":1.23},{"year":1935.7,"v":1.33},{"year":1937.1,"v":1.41},{"year":1938.5,"v":1.14},{"year":1940,"v":1.29},{"year":1941.4,"v":1.43},{"year":1942.8,"v":1.33},{"year":1944.2,"v":1.2},{"year":1945.6,"v":1.31},{"year":1947,"v":1.53},{"year":1948.4,"v":1.68},{"year":1949.9,"v":1.51},{"year":1951.3,"v":1.33},{"year":1952.7,"v":1.47},{"year":1954.1,"v":1.62},{"year":1955.5,"v":1.47},{"year":1956.9,"v":1.31},{"year":1958.3,"v":1.22},{"year":1959.8,"v":1.35},{"year":1961.2,"v":1.53},{"year":1962.6,"v":1.64},{"year":1964,"v":1.45},{"year":1965.4,"v":1.29},{"year":1966.8,"v":1.39},{"year":1968.2,"v":1.53},{"year":1969.7,"v":1.37},{"year":1971.1,"v":1.22},{"year":1972.5,"v":1.31},{"year":1973.9,"v":1.2},{"year":1975.3,"v":1.31},{"year":1976.7,"v":1.43},{"year":1978.2,"v":1.56},{"year":1979.6,"v":1.6},{"year":1981,"v":1.47},{"year":1982.4,"v":1.37},{"year":1983.2,"v":1.43}]
},
"bounds":"flush",
"spacing":164,
"vconcat":[
 {"bounds":"flush","spacing":168,"hconcat":[
  {"width":175,"height":129,
   "encoding":{"x":{"field":"year","type":"quantitative","scale":{"domain":[1860,1990],"nice":false,"zero":false},
     "axis":{"orient":"top","values":[1860,1880,1900,1920,1940,1960,1980],"format":"d","labelExpr":"datum.value % 40 == 0 ? datum.label : ''","title":"Year","titlePadding":11,"labelPadding":9}}},
   "layer":[
    {"data":{"name":"a_amo"},"mark":{"type":"line","color":"#a8101a","strokeWidth":1.6},
     "encoding":{"y":{"field":"v","type":"quantitative","scale":{"domain":[1,4],"nice":false,"zero":false},"axis":{"orient":"right","values":[1,2,3,4],"title":["Kaplan AMO","(tuned and rescaled)"],"titlePadding":6}}}},
    {"encoding":{"y":{"field":"v","type":"quantitative","scale":{"domain":[0,5],"nice":false,"zero":false},"axis":{"orient":"left","values":[0,1,2,3,4,5],"title":"YOK-Gᴛᴄ Count","titlePadding":8}}},
     "layer":[
      {"data":{"name":"a_yok"},"mark":{"type":"line","color":"#555555","strokeWidth":1.6}},
      {"data":{"values":[{"year":1864.5,"v":4.65,"t":"scale = 2.852"},{"year":1864.5,"v":4.17,"t":"offset = 2.410"},{"year":1862,"v":0.23,"t":"Industrial Era"}]},"mark":{"type":"text","align":"left","baseline":"middle","fontSize":11,"color":"#222"},"encoding":{"text":{"field":"t"}}},
      {"data":{"values":[{"year":1985.8,"v":4.65,"t":"r = 0.194"},{"year":1985.8,"v":4.17,"t":"p < 0.05"}]},"mark":{"type":"text","align":"right","baseline":"middle","fontSize":11,"color":"#222"},"encoding":{"text":{"field":"t"}}},
      {"data":{"values":[{"year":1891.5,"v":3.53,"t":"AMO"}]},"mark":{"type":"text","align":"left","baseline":"middle","fontSize":12,"color":"#b3121c"},"encoding":{"text":{"field":"t"}}},
      {"data":{"values":[{"year":1951.2,"v":0.62,"t":"YOK-G"}]},"mark":{"type":"text","align":"center","baseline":"middle","fontSize":12,"color":"#666666"},"encoding":{"text":{"field":"t"}}},
      {"data":{"values":[{"year":1824.3,"v":5.35,"t":"a"}]},"mark":{"type":"text","align":"center","baseline":"middle","fontSize":17,"fontWeight":"bold","color":"#111"},"encoding":{"text":{"field":"t"}}},
      {"data":{"values":[{"year":1880.6,"v":3.53,"year2":1890.5,"v2":3.53}]},"mark":{"type":"rule","color":"#b3121c","strokeWidth":1},"encoding":{"x2":{"field":"year2"},"y2":{"field":"v2"}}},
      {"data":{"values":[{"year":1942,"v":1.23,"year2":1952,"v2":0.81}]},"mark":{"type":"rule","color":"#666666","strokeWidth":1},"encoding":{"x2":{"field":"year2"},"y2":{"field":"v2"}}}
     ]}
   ],
   "resolve":{"scale":{"y":"independent"}}},
  {"width":173,"height":129,
   "encoding":{"x":{"field":"year","type":"quantitative","scale":{"domain":[1870,1991.5],"nice":false,"zero":false},
     "axis":{"orient":"top","values":[1880,1900,1920,1940,1960,1980],"format":"d","labelExpr":"datum.value % 40 == 0 ? datum.label : ''","title":"Year","titlePadding":11,"labelPadding":9}}},
   "layer":[
    {"data":{"name":"b_amo"},"mark":{"type":"line","color":"#ff1a1a","strokeWidth":2.6,"interpolate":"monotone"},
     "encoding":{"y":{"field":"v","type":"quantitative","scale":{"domain":[1,4],"nice":false,"zero":false},"axis":{"orient":"right","values":[1,2,3,4],"title":["Mann AMO","(tuned and rescaled)"],"titlePadding":6}}}},
    {"encoding":{"y":{"field":"v","type":"quantitative","scale":{"domain":[1,4],"nice":false,"zero":false},"axis":{"orient":"left","values":[1,2,3,4],"title":["YOK-Gᴛᴄ Count","(smoothed)"],"titlePadding":8}}},
     "layer":[
      {"data":{"name":"b_yok"},"mark":{"type":"line","color":"#111111","strokeWidth":1.8,"interpolate":"monotone"}},
      {"data":{"values":[{"year":1874.4,"v":3.79,"t":"scale = 2.604"},{"year":1874.4,"v":3.5,"t":"offset = 2.342"},{"year":1872.8,"v":1.14,"t":"Industrial Era"}]},"mark":{"type":"text","align":"left","baseline":"middle","fontSize":11,"color":"#222"},"encoding":{"text":{"field":"t"}}},
      {"data":{"values":[{"year":1986,"v":3.79,"t":"r = 0.334"},{"year":1986,"v":3.5,"t":"p < 0.001"}]},"mark":{"type":"text","align":"right","baseline":"middle","fontSize":11,"color":"#222"},"encoding":{"text":{"field":"t"}}},
      {"data":{"values":[{"year":1980.2,"v":3.0,"t":"AMO"}]},"mark":{"type":"text","align":"center","baseline":"middle","fontSize":12,"color":"#ff1a1a"},"encoding":{"text":{"field":"t"}}},
      {"data":{"values":[{"year":1961.1,"v":1.3,"t":"YOK-G"}]},"mark":{"type":"text","align":"center","baseline":"middle","fontSize":12,"color":"#222"},"encoding":{"text":{"field":"t"}}},
      {"data":{"values":[{"year":1843.3,"v":4.23,"t":"b"}]},"mark":{"type":"text","align":"center","baseline":"middle","fontSize":17,"fontWeight":"bold","color":"#111"},"encoding":{"text":{"field":"t"}}},
      {"data":{"values":[{"year":1974.4,"v":2.67,"year2":1981.4,"v2":2.88}]},"mark":{"type":"rule","color":"#ff1a1a","strokeWidth":1},"encoding":{"x2":{"field":"year2"},"y2":{"field":"v2"}}},
      {"data":{"values":[{"year":1959.4,"v":1.49,"year2":1965.7,"v2":1.86}]},"mark":{"type":"rule","color":"#222","strokeWidth":1},"encoding":{"x2":{"field":"year2"},"y2":{"field":"v2"}}}
     ]}
   ],
   "resolve":{"scale":{"y":"independent"}}}
 ]},
 {"width":518,"height":404,
  "layer":[
   {"encoding":{"x":{"field":"year","type":"quantitative","scale":{"domain":[1550,1990],"nice":false,"zero":false},
      "axis":{"orient":"top","values":[1600,1650,1700,1750,1800,1850,1900,1950],"labels":false,"title":null,"tickSize":-4}}},
    "layer":[
     {"data":{"name":"c_co2"},"mark":{"type":"area","color":"#fcc88e","opacity":1,"line":{"color":"#f5a35a","strokeWidth":1}},
      "encoding":{"y":{"field":"v","type":"quantitative","scale":{"domain":[275,330],"range":[0,87],"nice":false,"zero":false},
        "axis":{"orient":"left","offset":70,"values":[275,280,285,290,295,300,305,310,315,320,325,330],"labelExpr":"datum.value % 20 == 0 ? datum.label : ''","title":"CO₂ (ppm)","domainColor":"#f7b26a","tickColor":"#f7b26a","tickSize":7,"titlePadding":8}},
       "y2":{"datum":275}}},
     {"data":{"name":"c_so2"},"mark":{"type":"area","color":"#a87b4f","opacity":1},
      "encoding":{"y":{"field":"v","type":"quantitative","scale":{"domain":[0,125],"range":[0,87],"nice":false,"zero":false},
        "axis":{"orient":"right","offset":63,"values":[0,25,50,75,100,125],"labelExpr":"datum.value % 50 == 0 ? datum.label : ''","title":["Total SO₂","(Gg x 10³)"],"domainColor":"#c9a57f","tickColor":"#c9a57f","tickSize":7,"titlePadding":8}},
       "y2":{"datum":0}}},
     {"data":{"name":"c_amo"},"mark":{"type":"line","color":"#ff0000","strokeWidth":2.6,"interpolate":"monotone"},
      "encoding":{"y":{"field":"v","type":"quantitative","scale":{"domain":[-0.6,0.4],"range":[0,171],"nice":false,"zero":false},
        "axis":{"orient":"right","values":[-0.6,-0.4,-0.2,0,0.2,0.4],"labelExpr":"datum.value == 0 ? '0' : (datum.value < 0 ? '-' + format(-datum.value, '.1f') : format(datum.value, '.1f'))","title":"Mann AMO","domainColor":"#ff2020","tickColor":"#ff2020","titlePadding":8}}}},
     {"encoding":{"y":{"field":"v","type":"quantitative","scale":{"domain":[0,7],"range":[171,0],"nice":false,"zero":false},"axis":{"orient":"left","values":[0,1,2,3,4,5,6,7],"title":["YOK-Gᴛᴄ Count","(smoothed)"],"titlePadding":8}}},
      "layer":[
       {"data":{"name":"c_yok"},"mark":{"type":"line","color":"#111111","strokeWidth":1.6,"interpolate":"monotone"}},
       {"data":{"values":[{"year":1870,"v":7,"v2":-1.43}]},"mark":{"type":"rule","color":"#777777","strokeWidth":1.6,"strokeDash":[7,5]},"encoding":{"y2":{"field":"v2"}}},
       {"data":{"values":[{"year":1783,"v":2.62,"v2":1.72}]},"mark":{"type":"rule","color":"#f47920","strokeWidth":1.6},"encoding":{"y2":{"field":"v2"}}},
       {"data":{"values":[{"year":1783,"v":2.55}]},"mark":{"type":"point","shape":"triangle-up","filled":true,"size":45,"color":"#f47920","opacity":1}},
       {"data":{"values":[{"year":1772.3,"v":5.81,"t":"YOK-G"}]},"mark":{"type":"text","align":"center","baseline":"middle","fontSize":12,"color":"#222"},"encoding":{"text":{"field":"t"}}},
       {"data":{"values":[{"year":1686.7,"v":2.06,"t":"AMO"}]},"mark":{"type":"text","align":"center","baseline":"middle","fontSize":12,"color":"#ff1a1a"},"encoding":{"text":{"field":"t"}}},
       {"data":{"values":[{"year":1890.4,"v":6.26,"t":"CO₂"}]},"mark":{"type":"text","align":"center","baseline":"middle","fontSize":12,"fontStyle":"italic","color":"#f59a45"},"encoding":{"text":{"field":"t"}}},
       {"data":{"values":[{"year":1980.4,"v":6.6,"t":"anthropogenic"},{"year":1980.4,"v":6.07,"t":"aerosols"}]},"mark":{"type":"text","align":"right","baseline":"middle","fontSize":11.5,"fontStyle":"italic","color":"#6b4a35"},"encoding":{"text":{"field":"t"}}},
       {"data":{"values":[{"year":1509.8,"v":7.13,"t":"c"}]},"mark":{"type":"text","align":"center","baseline":"middle","fontSize":17,"fontWeight":"bold","color":"#111"},"encoding":{"text":{"field":"t"}}},
       {"data":{"values":[{"year":1770.1,"v":5.4,"year2":1781.4,"v2":4.93}]},"mark":{"type":"rule","color":"#222","strokeWidth":1},"encoding":{"x2":{"field":"year2"},"y2":{"field":"v2"}}},
       {"data":{"values":[{"year":1668.3,"v":3.19,"year2":1683.9,"v2":2.47}]},"mark":{"type":"rule","color":"#ff1a1a","strokeWidth":1},"encoding":{"x2":{"field":"year2"},"y2":{"field":"v2"}}}
      ]}
    ],
    "resolve":{"scale":{"y":"independent"}}},
   {"encoding":{"x":{"field":"year","type":"quantitative","scale":{"domain":[1550,1990],"nice":false,"zero":false},
      "axis":{"orient":"bottom","offset":40,"values":[1550,1560,1570,1580,1590,1600,1610,1620,1630,1640,1650,1660,1670,1680,1690,1700,1710,1720,1730,1740,1750,1760,1770,1780,1790,1800,1810,1820,1830,1840,1850,1860,1870,1880,1890,1900,1910,1920,1930,1940,1950,1960,1970,1980],"format":"d","labelExpr":"datum.value % 50 == 0 ? datum.label : ''","title":"Year","titleFontSize":15,"titlePadding":9}}},
    "layer":[
     {"encoding":{"y":{"field":"v","type":"quantitative","scale":{"domain":[0,7],"range":[404,232],"nice":false,"zero":false},"axis":{"orient":"left","values":[0,1,2,3,4,5,6,7],"title":"YOK-Gᴛᴄ Count","titlePadding":8}}},
      "layer":[
       {"data":{"name":"d_yok"},"mark":{"type":"line","color":"#555555","strokeWidth":1.2}},
       {"data":{"values":[{"year":1870,"v":8.0,"v2":-1.2}]},"mark":{"type":"rule","color":"#777777","strokeWidth":1.6,"strokeDash":[7,5]},"encoding":{"y2":{"field":"v2"}}},
       {"data":{"values":[{"year":1783,"v":7.24,"v2":6.51}]},"mark":{"type":"rule","color":"#f47920","strokeWidth":1.6},"encoding":{"y2":{"field":"v2"}}},
       {"data":{"values":[{"year":1783,"v":6.62}]},"mark":{"type":"point","shape":"triangle-down","filled":true,"size":45,"color":"#f47920","opacity":1}},
       {"data":{"values":[{"year":1862.5,"v":9.2,"t":"AMO polarity reversal"}]},"mark":{"type":"text","align":"center","baseline":"middle","angle":270,"fontSize":12,"fontStyle":"italic","color":"#777777"},"encoding":{"text":{"field":"t"}}},
       {"data":{"values":[{"year":1783.3,"v":9.28,"t":"1783 Laki eruption"}]},"mark":{"type":"text","align":"center","baseline":"middle","angle":270,"fontSize":12,"fontStyle":"italic","color":"#f47920"},"encoding":{"text":{"field":"t"}}},
       {"data":{"values":[{"year":1551.7,"v":9.12,"t":"Mann AMO vs TCs"},{"year":1671.4,"v":9.12,"t":"r = - 0.35; p < 0.001"},{"year":1875.1,"v":9.12,"t":"r = 0.23; p < 0.05"}]},"mark":{"type":"text","align":"left","baseline":"middle","fontSize":12,"fontWeight":"bold","color":"#ff1a1a"},"encoding":{"text":{"field":"t"}}},
       {"data":{"values":[{"year":1551.7,"v":8.47,"t":"ITCZ position vs TCs"},{"year":1671.4,"v":8.47,"t":"r = 0.21; p < 0.001"},{"year":1875.1,"v":8.47,"t":"r = 0.11; p < 0.001"}]},"mark":{"type":"text","align":"left","baseline":"middle","fontSize":12,"fontWeight":"bold","color":"#1ec0f0"},"encoding":{"text":{"field":"t"}}},
       {"data":{"values":[{"year":1812.3,"v":6.88,"t":"YOK-G"}]},"mark":{"type":"text","align":"center","baseline":"middle","fontSize":12,"color":"#666666"},"encoding":{"text":{"field":"t"}}},
       {"data":{"values":[{"year":1948.1,"v":6.31,"t":"ITCZ Proxy"}]},"mark":{"type":"text","align":"center","baseline":"middle","fontSize":12,"color":"#1ec0f0"},"encoding":{"text":{"field":"t"}}},
       {"data":{"values":[{"year":1799.6,"v":6.19,"year2":1808.1,"v2":6.55}]},"mark":{"type":"rule","color":"#666666","strokeWidth":1},"encoding":{"x2":{"field":"year2"},"y2":{"field":"v2"}}},
       {"data":{"values":[{"year":1934.6,"v":5.41,"year2":1946.4,"v2":5.9}]},"mark":{"type":"rule","color":"#1ec0f0","strokeWidth":1},"encoding":{"x2":{"field":"year2"},"y2":{"field":"v2"}}},
       {"data":{"values":[{"year":1551.7,"v":-0.33,"t":"Pre-Industrial Era:"},{"year":1551.7,"v":-0.81,"t":"TC tracks controlled by natural"},{"year":1551.7,"v":-1.34,"t":"forcing of Hadley Cell position"},{"year":1875.1,"v":0.12,"t":"Industrial Era:"},{"year":1875.1,"v":-0.33,"t":"TC tracks controlled by natural"},{"year":1877,"v":-0.81,"t":"and anthropogenic forcing of"},{"year":1875.1,"v":-1.34,"t":"Hadley Cell position and width"}]},"mark":{"type":"text","align":"left","baseline":"middle","fontSize":10.5,"fontStyle":"italic","color":"#333333"},"encoding":{"text":{"field":"t"}}},
       {"data":{"values":[{"year":1552,"v":-0.56,"year2":1621,"v2":-0.56},{"year":1875.1,"v":-0.1,"year2":1923,"v2":-0.1}]},"mark":{"type":"rule","color":"#333333","strokeWidth":0.8},"encoding":{"x2":{"field":"year2"},"y2":{"field":"v2"}}},
       {"data":{"values":[{"year":1509.8,"v":6.85,"t":"d"}]},"mark":{"type":"text","align":"center","baseline":"middle","fontSize":17,"fontWeight":"bold","color":"#111"},"encoding":{"text":{"field":"t"}}},
       {"data":{"values":[{"year":2066,"v":4.0,"t":"N ◀─── ITCZ ───▶ S"}]},"mark":{"type":"text","align":"center","baseline":"middle","angle":270,"fontSize":14,"color":"#111"},"encoding":{"text":{"field":"t"}}}
      ]},
     {"data":{"name":"d_itcz"},"mark":{"type":"line","color":"#00bff3","strokeWidth":2},
      "encoding":{"y":{"field":"v","type":"quantitative","scale":{"domain":[1,2],"range":[401,229],"nice":false,"zero":false},
        "axis":{"orient":"right","values":[1,1.25,1.5,1.75,2],"labelExpr":"'' + datum.value","title":["Quelccaya Ice Cap","accum. rate (m)"],"domainColor":"#00bff3","tickColor":"#00bff3","titlePadding":8}}}}
    ],
    "resolve":{"scale":{"y":"independent"}}}
  ],
  "resolve":{"scale":{"x":"independent","y":"independent"}}}
]
}
